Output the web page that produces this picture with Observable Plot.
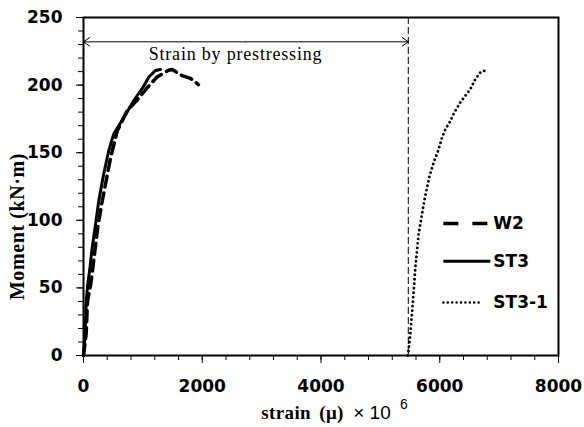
<!DOCTYPE html>
<html>
<head>
<meta charset="utf-8">
<script src="https://cdn.jsdelivr.net/npm/d3@7"></script>
<script src="https://cdn.jsdelivr.net/npm/@observablehq/plot@0.6"></script>
<style>
  html, body { margin: 0; padding: 0; background: #fff; }
  .ann text { letter-spacing: 0.8px; }
  .ytitle text { letter-spacing: 0.6px; }
  .xtitle text { letter-spacing: 0.4px; word-spacing: 3px; }
</style>
</head>
<body>
<div id="chart"></div>
<script>
// ---- data ----
const w2Strain  = [0, 45, 67, 123, 185, 241, 306, 455, 567, 735, 904, 1072, 1240, 1431, 1493, 1661, 1801, 1936];
const w2Moment  = [0, 16, 40, 53, 75, 95, 112, 146, 166, 181, 189, 198, 206, 211, 211.5, 207, 205, 200.4];

const st3Strain = [0, 28, 45, 73, 112, 140, 213, 258, 342, 426, 511, 679, 847, 1003, 1100, 1212, 1296];
const st3Moment = [0, 16, 40, 53, 66, 77.6, 100, 114.6, 134.6, 151.6, 164, 176, 188.6, 198.4, 206, 210.8, 211.5];

const st31Strain = [5465, 5505, 5550, 5589, 5645, 5740, 5830, 5900, 5974, 6041, 6097, 6169, 6248, 6349, 6434, 6518, 6602, 6686, 6798];
const st31Moment = [0, 16, 40.7, 65, 90, 114.6, 133, 143, 151.6, 161.5, 167.6, 172.6, 180, 187.4, 192.3, 197.3, 204.6, 209.5, 211.3];

const seriesNames = ["W2", "ST3", "ST3-1"];
const xTicks = [0, 2000, 4000, 6000, 8000];
const yTicks = [0, 50, 100, 150, 200, 250];
const prestressStrain = 5470;        // end of strain by prestressing
const prestressArrowMoment = 232;
const annotationText = "Strain by prestressing";

// ---- build tables ----
const toRows = (xs, ys, name) => xs.map((x, i) => ({strain: x, moment: ys[i], series: name}));
const w2 = toRows(w2Strain, w2Moment, "W2");
const st3 = toRows(st3Strain, st3Moment, "ST3");
const st31 = toRows(st31Strain, st31Moment, "ST3-1");

// legend placement (in data units)
const legX1 = 6061, legTextX = 6903;
const legX2 = [6802, 6852, 6684];
const legY = [97.6, 69.8, 39.2];
const legStyles = [
  {strokeWidth: 3.5, strokeDasharray: "15,14", strokeLinecap: "butt"},
  {strokeWidth: 3, strokeDasharray: null, strokeLinecap: "butt"},
  {strokeWidth: 2.4, strokeDasharray: "0.1,4.3", strokeLinecap: "round"}
];
const legend = seriesNames.map((s, i) => ({name: s, y: legY[i], x2: legX2[i]}));

const mid = prestressStrain / 2;
const sansBold = {fontFamily: "DejaVu Sans", fontWeight: "bold", fontSize: 17};

const chart = Plot.plot({
  width: 584,
  height: 427,
  marginLeft: 83,
  marginRight: 26,
  marginTop: 17,
  marginBottom: 72,
  style: {fontFamily: "DejaVu Sans", background: "#fff", color: "#000"},
  x: {domain: [0, 8000]},
  y: {domain: [0, 250]},
  marks: [
    // minor ticks
    Plot.axisY({ticks: d3.range(0, 251, 10), tickSize: 5, text: null, label: null, strokeWidth: 1}),
    Plot.axisX({ticks: d3.range(0, 8001, 400), tickSize: 5, text: null, label: null, strokeWidth: 1}),
    // major ticks and labels
    Plot.axisY({ticks: yTicks, tickSize: 7, tickPadding: 14, tickFormat: d3.format("d"), label: null, ...sansBold, strokeWidth: 1}),
    Plot.axisX({ticks: xTicks, tickSize: 8, tickPadding: 16, tickFormat: d3.format("d"), label: null, ...sansBold, strokeWidth: 1}),
    Plot.frame({stroke: "#000", strokeWidth: 2}),
    // prestress marker
    Plot.ruleX([prestressStrain], {stroke: "#000", strokeWidth: 1, strokeDasharray: "7,3"}),
    Plot.arrow([0], {x1: mid, x2: 0, y1: prestressArrowMoment, y2: prestressArrowMoment, stroke: "#000", strokeWidth: 1, headLength: 11, headAngle: 70}),
    Plot.arrow([0], {x1: mid, x2: prestressStrain, y1: prestressArrowMoment, y2: prestressArrowMoment, stroke: "#000", strokeWidth: 1, headLength: 11, headAngle: 70}),
    Plot.text([annotationText], {x: 2560, y: 223, text: d => d, fontFamily: "Liberation Serif", fontSize: 18, fill: "#000", className: "ann"}),
    // series
    Plot.line(w2, {x: "strain", y: "moment", stroke: "#000", strokeWidth: 3.5, strokeDasharray: "11,6"}),
    Plot.line(st3, {x: "strain", y: "moment", stroke: "#000", strokeWidth: 3}),
    Plot.line(st31, {x: "strain", y: "moment", stroke: "#000", strokeWidth: 2.8, strokeDasharray: "0.1,4.4", strokeLinecap: "round"}),
    // legend
    ...legend.map((d, i) => Plot.link([d], {x1: legX1, x2: "x2", y1: "y", y2: "y", stroke: "#000", ...legStyles[i]})),
    Plot.text(legend, {x: legTextX, y: "y", text: "name", textAnchor: "start", ...sansBold, fill: "#000"}),
    // axis titles
    Plot.text(["Moment (kN·m)"], {frameAnchor: "left", textAnchor: "middle", lineAnchor: "middle", dx: -66, dy: 40, rotate: -90, text: d => d, fontFamily: "Liberation Serif", fontWeight: "bold", fontSize: 20, fill: "#000", className: "ytitle"}),
    Plot.text(["strain (μ)"], {frameAnchor: "bottom", textAnchor: "middle", lineAnchor: "middle", dx: -18.5, dy: 57, text: d => d, fontFamily: "Liberation Serif", fontWeight: "bold", fontSize: 19, fill: "#000", className: "xtitle"}),
    Plot.text(["× 10"], {frameAnchor: "bottom", textAnchor: "middle", lineAnchor: "middle", dx: 51, dy: 57, text: d => d, fontFamily: "Liberation Sans", fontSize: 19, fill: "#000"}),
    Plot.text(["6"], {frameAnchor: "bottom", textAnchor: "middle", lineAnchor: "middle", dx: 83, dy: 49, text: d => d, fontFamily: "Liberation Sans", fontSize: 14, fill: "#000"})
  ]
});
document.getElementById("chart").appendChild(chart);
</script>
</body>
</html>
